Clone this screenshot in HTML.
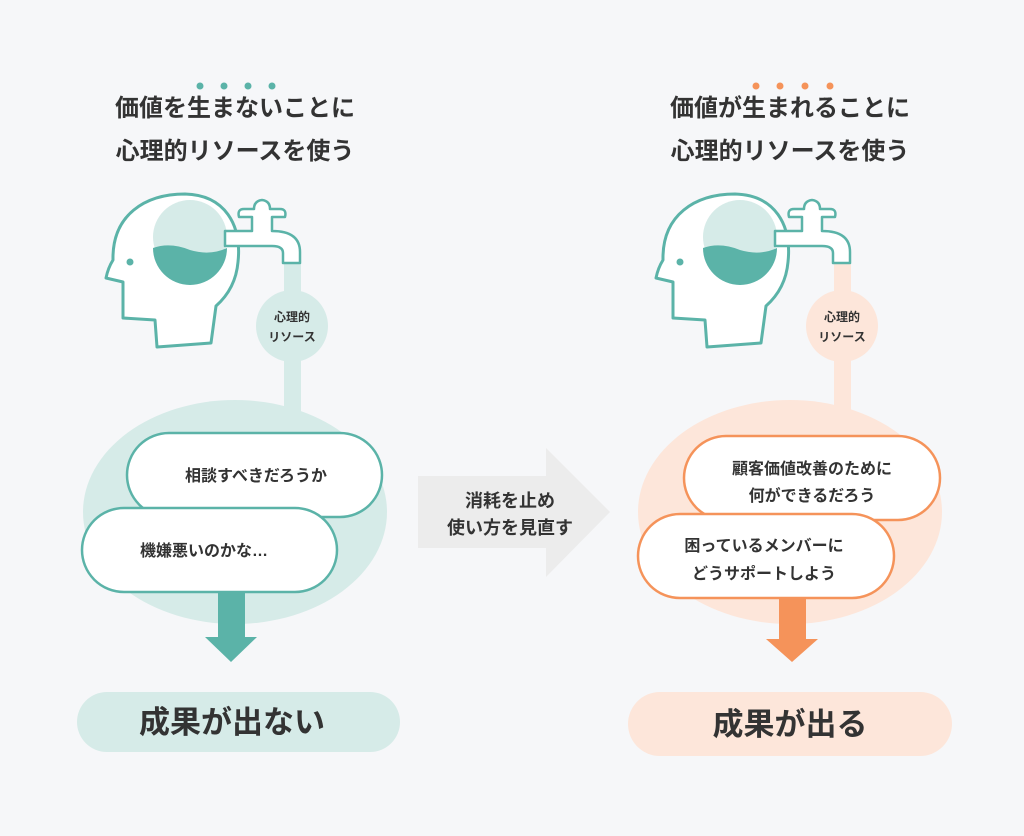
<!DOCTYPE html>
<html><head><meta charset="utf-8"><style>
html,body{margin:0;padding:0;background:#f6f7f9;}
svg{display:block}
text{font-family:"Liberation Sans","Noto Sans CJK JP",sans-serif;fill:#333;font-weight:bold}
</style></head><body>
<svg width="1024" height="836" viewBox="0 0 1024 836" xmlns="http://www.w3.org/2000/svg">
<defs>
<g id="head">
  <path d="M157,347 L155,320 L123,318 L123,282 L106,278 Q108,268 113,260 C112,215 145,194 185,194 C225,195 242,225 238,262 C236,285 225,298 216,306 L211,343 Z" fill="#fff" stroke="#5bb3a8" stroke-width="3" stroke-linejoin="round"/>
  <circle cx="130" cy="262" r="3.5" fill="#5bb3a8"/>
  <circle cx="190" cy="237" r="37" fill="#d6ebe8"/>
  <path d="M153,248 Q170,242 190,250 Q210,256 227,248 A37,37 0 0 1 153,248 Z" fill="#5bb3a8"/>
  <path d="M225,231 L252,231 L252,217 L239,217 Q237,209 244,209 L254,209 Q254,201 262,200 Q270,201 270,209 L280,209 Q287,209 285,217 L272,217 L272,231 Q300,231 300,252 L300,263 L283,263 L283,253 Q283,246 272,246 L225,246 Z" fill="#fff" stroke="#5bb3a8" stroke-width="2.5" stroke-linejoin="round"/>
</g>
</defs>

<!-- LEFT -->
<g fill="#5bb3a8"><circle cx="200" cy="86" r="3.5"/><circle cx="224" cy="86" r="3.5"/><circle cx="248" cy="86" r="3.5"/><circle cx="272" cy="86" r="3.5"/></g>
<text x="235" y="116" font-size="24" text-anchor="middle">価値を生まないことに</text>
<text x="235" y="159" font-size="24" text-anchor="middle">心理的リソースを使う</text>
<rect x="284" y="260" width="17" height="160" fill="#d6ebe8"/>
<ellipse cx="235" cy="512" rx="152" ry="112" fill="#d6ebe8"/>
<use href="#head"/>
<circle cx="292" cy="326" r="36" fill="#d6ebe8"/>
<text x="292" y="321" font-size="12" text-anchor="middle">心理的</text>
<text x="292" y="341" font-size="12" text-anchor="middle">リソース</text>
<rect x="127" y="433" width="255" height="84" rx="42" fill="#fff" stroke="#5bb3a8" stroke-width="2.5"/>
<text x="256" y="481" font-size="16" text-anchor="middle">相談すべきだろうか</text>
<rect x="82" y="508" width="255" height="84" rx="42" fill="#fff" stroke="#5bb3a8" stroke-width="2.5"/>
<text x="140" y="556" font-size="16">機嫌悪いのかな…</text>
<rect x="218" y="593" width="27" height="45" fill="#5bb3a8"/>
<polygon points="205,637 257,637 231,662" fill="#5bb3a8"/>
<rect x="77" y="692" width="323" height="60" rx="30" fill="#d6ebe8"/>
<text x="232" y="733" font-size="31" text-anchor="middle">成果が出ない</text>

<!-- MIDDLE -->
<polygon points="418,476 546,476 546,448 610,512 546,577 546,548 418,548" fill="#ececec"/>
<text x="510" y="507" font-size="18" text-anchor="middle">消耗を止め</text>
<text x="510" y="534" font-size="18" text-anchor="middle">使い方を見直す</text>

<!-- RIGHT -->
<g fill="#f5935a"><circle cx="756" cy="86" r="3.5"/><circle cx="780" cy="86" r="3.5"/><circle cx="805" cy="86" r="3.5"/><circle cx="830" cy="86" r="3.5"/></g>
<text x="790" y="116" font-size="24" text-anchor="middle">価値が生まれることに</text>
<text x="790" y="159" font-size="24" text-anchor="middle">心理的リソースを使う</text>
<rect x="834" y="260" width="17" height="160" fill="#fde6da"/>
<ellipse cx="790" cy="512" rx="152" ry="112" fill="#fde6da"/>
<use href="#head" transform="translate(550,0)"/>
<circle cx="842" cy="326" r="36" fill="#fde6da"/>
<text x="842" y="321" font-size="12" text-anchor="middle">心理的</text>
<text x="842" y="341" font-size="12" text-anchor="middle">リソース</text>
<rect x="684" y="436" width="256" height="84" rx="42" fill="#fff" stroke="#f5935a" stroke-width="2.5"/>
<text x="812" y="474" font-size="16" text-anchor="middle">顧客価値改善のために</text>
<text x="812" y="501" font-size="16" text-anchor="middle">何ができるだろう</text>
<rect x="638" y="514" width="256" height="84" rx="42" fill="#fff" stroke="#f5935a" stroke-width="2.5"/>
<text x="764" y="551" font-size="16" text-anchor="middle">困っているメンバーに</text>
<text x="764" y="579" font-size="16" text-anchor="middle">どうサポートしよう</text>
<rect x="779" y="599" width="27" height="41" fill="#f5935a"/>
<polygon points="766,639 818,639 792,662" fill="#f5935a"/>
<rect x="628" y="692" width="324" height="64" rx="32" fill="#fde6da"/>
<text x="790" y="735" font-size="31" text-anchor="middle">成果が出る</text>
</svg>
</body></html>
